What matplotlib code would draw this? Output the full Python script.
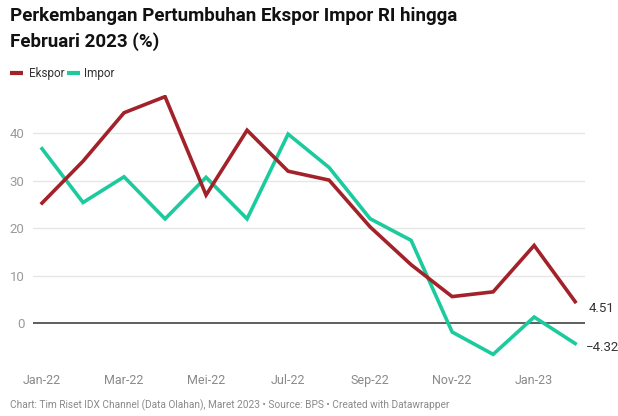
import matplotlib
matplotlib.use("Agg")
import matplotlib.pyplot as plt

months = ["Jan-22", "Feb-22", "Mar-22", "Apr-22", "Mei-22", "Jun-22", "Jul-22",
          "Agu-22", "Sep-22", "Okt-22", "Nov-22", "Des-22", "Jan-23", "Feb-23"]
ekspor = [25.31, 34.14, 44.36, 47.76, 27.00, 40.68, 32.03, 30.15, 20.28, 12.30, 5.58, 6.58, 16.37, 4.51]
impor = [36.77, 25.43, 30.85, 21.97, 30.74, 21.98, 39.86, 32.81, 22.01, 17.44, -1.89, -6.61, 1.27, -4.32]
yticks = [0, 10, 20, 30, 40]
xtick_labels = ["Jan-22", "Mar-22", "Mei-22", "Jul-22", "Sep-22", "Nov-22", "Jan-23"]

plt.rcParams['font.family'] = ['Roboto', 'DejaVu Sans']

W, H = 618, 416
fig = plt.figure(figsize=(W / 100, H / 100), dpi=100)

# axes placement in pixels
left_px, right_px = 33, 585
top_px, bot_px = 95.5, 365.7
ax = fig.add_axes([left_px / W, 1 - bot_px / H, (right_px - left_px) / W, (bot_px - top_px) / H])
ax.set_xlim(-0.22, 13.24)
ax.set_ylim(-9, 48)

c_ek = '#a3222a'
c_im = '#1ccb9d'
x = list(range(len(months)))

for s in ax.spines.values():
    s.set_visible(False)
for t in yticks:
    if t == 0:
        ax.axhline(0, color='#333333', lw=1.1, zorder=2)
    else:
        ax.axhline(t, color='#e6e6e6', lw=1.0, zorder=1)

ax.plot(x, impor, color=c_im, lw=2.6, solid_joinstyle='miter', zorder=3)
ax.plot(x, ekspor, color=c_ek, lw=2.6, solid_joinstyle='miter', zorder=4)

ax.set_yticks(yticks)
ax.set_yticklabels([str(t) for t in yticks])
ax.tick_params(axis='y', length=0, pad=6, labelsize=9.5, labelcolor='#9a9a9a')
ax.set_xticks([x[months.index(m)] for m in xtick_labels])
ax.set_xticklabels(xtick_labels)
ax.tick_params(axis='x', length=0, pad=6, labelsize=9, labelcolor='#8a8a8a')

# end labels
ax.annotate(f"{ekspor[-1]:.2f}", xy=(x[-1], ekspor[-1]), xytext=(10, -5), textcoords='offset points',
            fontsize=9.5, color='#333333', va='center', ha='left', annotation_clip=False)
ax.annotate(f"\u2212{abs(impor[-1]):.2f}", xy=(x[-1], impor[-1]), xytext=(8, -3), textcoords='offset points',
            fontsize=9.5, color='#333333', va='center', ha='left', annotation_clip=False)

# title
fig.text(10 / W, 1 - 7 / H, "Perkembangan Pertumbuhan Ekspor Impor RI hingga\nFebruari 2023 (%)",
         fontsize=13.5, fontweight='bold', color='#111111', va='top', ha='left', linespacing=1.5)

# legend
ly = 1 - 73 / H
fig.add_artist(plt.Line2D([10 / W, 23 / W], [ly, ly], color=c_ek, lw=3, solid_capstyle='butt',
                          transform=fig.transFigure))
fig.text(29 / W, ly, "Ekspor", fontsize=8.5, color='#333333', va='center', ha='left')
fig.add_artist(plt.Line2D([67 / W, 80 / W], [ly, ly], color=c_im, lw=3, solid_capstyle='butt',
                          transform=fig.transFigure))
fig.text(84 / W, ly, "Impor", fontsize=8.5, color='#333333', va='center', ha='left')

# footer
fig.text(10 / W, 1 - 405 / H,
         "Chart: Tim Riset IDX Channel (Data Olahan), Maret 2023 \u2022 Source: BPS \u2022 Created with Datawrapper",
         fontsize=7.3, color='#8a8a8a', va='center', ha='left')

fig.savefig("out.png", dpi=100, facecolor='white')
